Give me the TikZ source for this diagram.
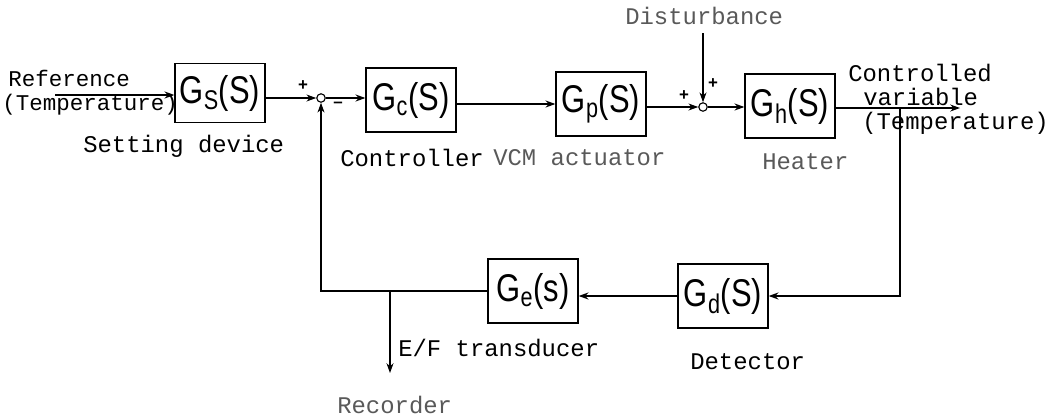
\documentclass[tikz,border=0pt]{standalone}
\usepackage{fontspec}
\setmonofont{Liberation Mono}
\setsansfont{Liberation Sans}
\usetikzlibrary{arrows.meta, positioning}

% taller block text
\newcommand{\tallbox}[1]{\scalebox{1}[1.25]{#1}}

\begin{document}
\begin{tikzpicture}[x=0.025cm, y=-0.025cm,
        block/.style={draw, line width=0.9pt, minimum width=2.25cm, minimum height=1.6cm,
                      inner sep=0pt, font=\sffamily\fontsize{22}{24}\selectfont},
        sumpt/.style={circle, draw, line width=0.8pt, inner sep=0pt, minimum size=6pt},
        lbl/.style={anchor=west, inner sep=0pt, font=\ttfamily\fontsize{17}{19}\selectfont},
        small lbl/.style={lbl, font=\ttfamily\fontsize{16}{18}\selectfont},
        faint/.style={lbl, text=black!65},
        sgn/.style={inner sep=0pt, font=\sffamily\bfseries\fontsize{12}{12}\selectfont},
        sig/.style={line width=0.8pt, -{Stealth[length=7pt, width=5pt]}}]
        \useasboundingbox (0,0) rectangle (1058,416);

        % forward path blocks
        \node[block, minimum height=1.48cm] (gs) at (220,93) {\tallbox{G\textsubscript{S}(S)}};
        \node[sumpt] (s1) at (321,98) {};
        \node[block] (gc) at (411,100) {\tallbox{G\textsubscript{c}(S)}};
        \node[block] (gp) at (601,104) {\tallbox{G\textsubscript{p}(S)}};
        \node[sumpt] (s2) at (703,107) {};
        \node[block] (gh) at (790,106) {\tallbox{G\textsubscript{h}(S)}};

        % feedback blocks
        \node[block] (gd) at (723,296) {\tallbox{G\textsubscript{d}(S)}};
        \node[block] (ge) at (533,291) {\tallbox{G\textsubscript{e}(s)}};

        % free ends
        \coordinate (in) at (55,95);
        \coordinate (out) at (960,108);
        \coordinate (br) at (900,108);
        \coordinate (rb) at (390,291);
        \coordinate (rec) at (390,373);

        % labels
        \node[small lbl] (ref) at (8,78) {Reference};
        \node[small lbl] (reft) at (2,105) {(Temperature)};
        \node[lbl] (lgs) at (83,146) {Setting device};
        \node[lbl] (lgc) at (340,158) {Controller};
        \node[faint] (lgp) at (493,158) {VCM actuator};
        \node[faint] (lgh) at (762,162) {Heater};
        \node[faint] (dist) at (625,16) {Disturbance};
        \node[lbl] (cv1) at (848,73) {Controlled};
        \node[lbl] (cv2) at (863,97) {variable};
        \node[lbl] (cv3) at (862,123) {(Temperature)};
        \node[lbl] (lgd) at (690,362) {Detector};
        \node[lbl] (lge) at (398,348) {E/F transducer};
        \node[faint] (lrec) at (337,405) {Recorder};

        % signs at the summing points
        \node[sgn] (p1) at (303,86) {+};
        \node[sgn] (m1) at (338,105) {--};
        \node[sgn] (p2) at (684,96) {+};
        \node[sgn] (p3) at (713,84) {+};

        % forward path
        \draw[sig] (in) -- (in -| gs.west);
        \draw[sig] (gs.east |- s1) -- (s1.west);
        \draw[sig] (s1.east) -- (s1.east -| gc.west);
        \draw[sig] (gc.east |- gp) -- (gp.west);
        \draw[sig] (gp.east |- s2) -- (s2.west);
        \draw[sig] (s2.east) -- (s2.east -| gh.west);
        \draw[sig] (gh.east |- out) -- (out);
        \draw[sig] (dist.south -| s2) ++(0,8) -- (s2.north);

        % feedback path
        \draw[sig] (br) |- (gd.east);
        \draw[sig] (gd.west) -- (gd.west -| ge.east);
        \draw[sig] (ge.west) -| (s1.south);
        \draw[sig] (rb) -- (rec);
\end{tikzpicture}
\end{document}
